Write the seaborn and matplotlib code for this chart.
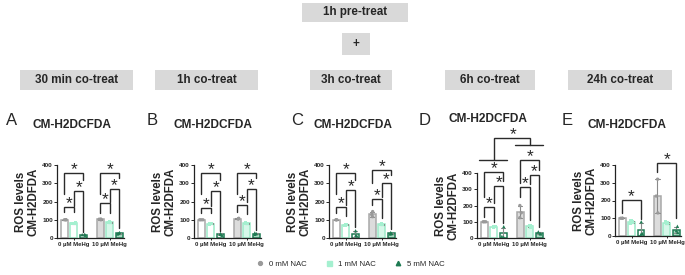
import numpy as np
import pandas as pd
import matplotlib
matplotlib.use("Agg")
import matplotlib.pyplot as plt
from matplotlib.patches import Rectangle
from matplotlib.lines import Line2D
import seaborn as sns

# ---------------- data ----------------
groups = ["0 µM MeHg", "10 µM MeHg"]
nac_levels = ["0 mM NAC", "1 mM NAC", "5 mM NAC"]
panel_letters = ["A", "B", "C", "D", "E"]
co_treat = ["30 min co-treat", "1h co-treat", "3h co-treat", "6h co-treat", "24h co-treat"]
yticks = [0, 100, 200, 300, 400]

# replicates: first three -> 0 µM MeHg, last three -> 10 µM MeHg
A_nac0 = [100, 100, 100, 100, 104, 103]
A_nac1 = [82, 78, 80, 88, 84, 86]
A_nac5 = [20, 15, 18, 30, 22, 25]
B_nac0 = [100, 100, 100, 108, 104, 106]
B_nac1 = [80, 76, 78, 83, 78, 80]
B_nac5 = [25, 15, 20, 28, 20, 24]
C_nac0 = [100, 100, 100, 145, 128, 117]
C_nac1 = [75, 70, 72, 78, 73, 75]
C_nac5 = [40, 15, 11, 30, 24, 22]
D_nac0 = [100, 100, 100, 200, 155, 125]
D_nac1 = [72, 66, 68, 75, 68, 70]
D_nac5 = [70, 10, 4, 38, 28, 25]
E_nac0 = [100, 100, 100, 320, 225, 130]
E_nac1 = [85, 78, 72, 80, 75, 70]
E_nac5 = [80, 15, 10, 55, 30, 20]

# significance brackets: (group, bar_i, bar_j, line level, left leg end, right leg end)
sig_A = [(0, 0, 1, 168, 140, 140), (0, 1, 2, 260, 178, 35), (0, 0, 2, 358, 240, 320),
         (1, 0, 1, 190, 137, 137), (1, 1, 2, 268, 200, 55), (1, 0, 2, 358, 240, 330)]
sig_B = [(0, 0, 1, 163, 135, 135), (0, 1, 2, 259, 175, 40), (0, 0, 2, 358, 240, 320),
         (1, 0, 1, 181, 140, 130), (1, 1, 2, 267, 195, 45), (1, 0, 2, 358, 240, 330)]
sig_C = [(0, 0, 1, 168, 135, 120), (0, 1, 2, 263, 180, 60), (0, 0, 2, 358, 240, 320),
         (1, 0, 1, 212, 180, 110), (1, 1, 2, 300, 225, 50), (1, 0, 2, 373, 300, 345)]
sig_D = [(0, 0, 1, 193, 130, 100), (0, 1, 2, 320, 215, 95), (0, 0, 2, 404, 250, 350),
         (1, 0, 1, 316, 250, 110), (1, 1, 2, 388, 330, 65), (1, 0, 2, 480, 340, 420)]
sig_E = [(0, 0, 2, 203, 130, 95), (1, 0, 2, 410, 360, 100)]
D_group_lines = [(0, 480), (1, 572)]
D_top = (618, 480, 572)

panels = [
    (A_nac0, A_nac1, A_nac5, sig_A),
    (B_nac0, B_nac1, B_nac5, sig_B),
    (C_nac0, C_nac1, C_nac5, sig_C),
    (D_nac0, D_nac1, D_nac5, sig_D),
    (E_nac0, E_nac1, E_nac5, sig_E),
]

# ---------------- style ----------------
sns.set_style("ticks")
plt.rcParams["font.family"] = ["Liberation Sans", "DejaVu Sans"]

edge_cols = ["#A8A8A8", "#9DEBC9", "#1E7B53"]
fill_g2 = ["#DCDCDC", "#D6F7E9", "#A9DCC3"]
pt_cols = ["#9A9A9A", "#A5F0D0", "#1E7B53"]
markers = ["o", "s", "^"]
box_col = "#D9D9D9"
line_col = "#2b2b2b"

W, H = 685, 275
fig = plt.figure(figsize=(W / 100, H / 100), dpi=100)


def frect(x0, y0, x1, y1):
    return [x0 / W, 1 - y1 / H, (x1 - x0) / W, (y1 - y0) / H]


axes_px = [(57, 165, 124, 238), (194, 165, 261, 238), (329, 165, 396, 238),
           (477, 173, 544, 238), (615, 165, 681, 236)]
letter_x = [6, 147, 291, 419, 562]
title_x = [72, 213, 353, 488, 627]
title_y = [125, 125, 125, 119, 125]
box_px = [(20, 133), (155, 258), (310, 392), (445, 535), (568, 672)]

np.random.seed(4)
slot = 0.8 / 3


def bx(g, i):
    return g + (i - 1) * slot


def star(ax, x, y):
    ax.annotate("*", xy=(x, y), xytext=(0, 2.4), textcoords="offset points",
                ha="center", va="center", fontsize=12.5, annotation_clip=False)


for k, (n0, n1, n5, sig) in enumerate(panels):
    ax = fig.add_axes(frect(*axes_px[k]))
    rows = []
    for lvl, vals in zip(nac_levels, [n0, n1, n5]):
        for idx, v in enumerate(vals):
            rows.append({"MeHg": groups[idx // 3], "NAC": lvl, "ROS": v})
    df = pd.DataFrame(rows)

    sns.barplot(data=df, x="MeHg", y="ROS", hue="NAC", order=groups, hue_order=nac_levels,
                palette=edge_cols, errorbar="sd", capsize=0.35, gap=0.28, width=0.8,
                err_kws={"linewidth": 0.8, "color": "#8a8a8a"}, ax=ax, legend=False)
    for p in ax.patches:
        c = p.get_x() + p.get_width() / 2
        g = int(round(c))
        h = int(round((c - g) / slot)) + 1
        p.set_edgecolor(edge_cols[h])
        p.set_linewidth(1.1)
        p.set_facecolor("white" if g == 0 else fill_g2[h])

    for lvl, mk in zip(nac_levels, markers):
        sns.stripplot(data=df[df["NAC"] == lvl], x="MeHg", y="ROS", hue="NAC", order=groups,
                      hue_order=nac_levels, palette=pt_cols, dodge=True, jitter=0.15,
                      marker=mk, size=2.4, linewidth=0, ax=ax, legend=False, zorder=3)

    # significance brackets
    for (g, i, j, y, lb, rb) in sig:
        x1, x2 = bx(g, i), bx(g, j)
        ax.plot([x1, x1, x2, x2], [lb, y, y, rb], color=line_col, lw=1.0,
                clip_on=False, solid_joinstyle="miter")
        star(ax, (x1 + x2) / 2, y)
    if k == 3:
        for (g, y) in D_group_lines:
            ax.plot([g - 0.42, g + 0.36], [y, y], color=line_col, lw=1.0, clip_on=False)
        yt, yl, yr = D_top
        ax.plot([0, 0, 1, 1], [yl, yt, yt, yr], color=line_col, lw=1.0, clip_on=False,
                solid_joinstyle="miter")
        star(ax, 0.55, yt)

    ax.set_xlim(-0.47, 1.4)
    ax.set_ylim(0, 400)
    ax.set_yticks(yticks)
    ax.set_yticklabels([str(t) for t in yticks], fontsize=4.6, fontweight="bold")
    ax.set_xticks([0, 1])
    ax.set_xticklabels(groups, fontsize=4.3, fontweight="bold")
    ax.tick_params(axis="y", length=2, width=0.7, pad=1)
    ax.tick_params(axis="x", length=1.5, width=0.7, pad=1.5)
    ax.set_xlabel("")
    ax.set_ylabel("ROS levels\nCM-H2DFDA", fontsize=8.3, fontweight="bold", labelpad=2,
                  linespacing=1.0)
    sns.despine(ax=ax)
    for s in ["left", "bottom"]:
        ax.spines[s].set_linewidth(0.9)
        ax.spines[s].set_color("#222222")

    # panel letter and title
    fig.text(letter_x[k] / W, 1 - 121 / H, panel_letters[k], fontsize=12, ha="left", va="center")
    fig.text(title_x[k] / W, 1 - title_y[k] / H, "CM-H2DCFDA", fontsize=8.6,
             fontweight="bold", ha="center", va="center")

    # co-treat box
    x0, x1 = box_px[k]
    fig.add_artist(Rectangle((x0 / W, 1 - 90 / H), (x1 - x0) / W, 20 / H,
                             transform=fig.transFigure, facecolor=box_col, edgecolor="none"))
    fig.text((x0 + x1) / 2 / W, 1 - 80 / H, co_treat[k], fontsize=8.4, fontweight="bold",
             ha="center", va="center")

# top boxes
fig.add_artist(Rectangle((302 / W, 1 - 22 / H), 106 / W, 19 / H, transform=fig.transFigure,
                         facecolor=box_col, edgecolor="none"))
fig.text(355 / W, 1 - 12.5 / H, "1h pre-treat", fontsize=8.4, fontweight="bold",
         ha="center", va="center")
fig.add_artist(Rectangle((342 / W, 1 - 55 / H), 28 / W, 22 / H, transform=fig.transFigure,
                         facecolor=box_col, edgecolor="none"))
fig.text(356 / W, 1 - 44 / H, "+", fontsize=8.4, fontweight="bold", ha="center", va="center")

# legend
handles = [Line2D([], [], ls="none", marker=m, color=c, markersize=ms)
           for m, c, ms in zip(markers, pt_cols, [2.8, 3.6, 3.2])]
fig.legend(handles, nac_levels, loc="center", bbox_to_anchor=(350 / W, 1 - 264 / H), ncol=3,
           frameon=False, fontsize=5.6, handletextpad=0.6, columnspacing=2.2, handlelength=1.2)

fig.savefig("out.png", dpi=100)
